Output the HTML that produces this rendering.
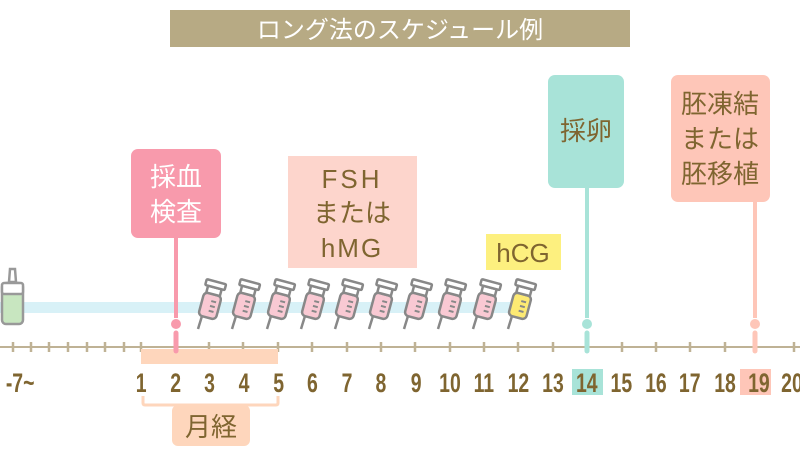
<!DOCTYPE html>
<html><head><meta charset="utf-8"><style>
body{margin:0;width:800px;height:450px;background:#fff;overflow:hidden;font-family:"Liberation Sans","Noto Sans CJK JP",sans-serif}
</style></head><body>
<svg width="800" height="450" viewBox="0 0 800 450" xmlns="http://www.w3.org/2000/svg" font-family="Liberation Sans, Noto Sans CJK JP, sans-serif">
<defs>
<g id="syr">
<line x1="-9" y1="14" x2="-13" y2="27" stroke="#888" stroke-width="2.5"/>
<rect x="-9" y="-8" width="18" height="24" rx="4" fill="#f9c9d3" stroke="#888" stroke-width="2.5" transform="rotate(15)"/>
<line x1="0" y1="-1" x2="5" y2="-1" stroke="#888" stroke-width="2" transform="rotate(15)"/>
<line x1="0" y1="4" x2="5" y2="4" stroke="#888" stroke-width="2" transform="rotate(15)"/>
<line x1="0" y1="9" x2="5" y2="9" stroke="#888" stroke-width="2" transform="rotate(15)"/>
<rect x="-7" y="-15" width="14" height="7" fill="#fff" stroke="#888" stroke-width="2.5" transform="rotate(15)"/>
<rect x="-10" y="-21" width="20" height="6" rx="1" fill="#fff" stroke="#888" stroke-width="2.5" transform="rotate(15)"/>
</g>
</defs>
<rect x="170" y="10" width="460" height="37" fill="#b7aa84"/>
<text x="400" y="38" font-size="24" fill="#fff" text-anchor="middle">ロング法のスケジュール例</text>
<rect x="0" y="302" width="510" height="11" fill="#d8f1f7"/>
<!-- nasal spray -->
<rect x="2" y="283" width="21" height="41" rx="4" fill="#c8e6c0" stroke="#999" stroke-width="2.5"/>
<rect x="2" y="283" width="21" height="11" rx="2" fill="#fff" stroke="#999" stroke-width="2.5"/>
<path d="M9 282 L10 269 L15 269 L16 282Z" fill="#fff" stroke="#999" stroke-width="2.5"/>
<!-- axis -->
<line x1="0" y1="347" x2="800" y2="347" stroke="#bfb295" stroke-width="2"/>
<g stroke="#bfb295" stroke-width="2.5">
<line x1="13" y1="342" x2="13" y2="352"/><line x1="31" y1="342" x2="31" y2="352"/><line x1="49" y1="342" x2="49" y2="352"/><line x1="68" y1="342" x2="68" y2="352"/><line x1="87" y1="342" x2="87" y2="352"/><line x1="105" y1="342" x2="105" y2="352"/><line x1="124" y1="342" x2="124" y2="352"/>
<line x1="141" y1="342" x2="141" y2="352"/><line x1="209" y1="342" x2="209" y2="352"/><line x1="243" y1="342" x2="243" y2="352"/><line x1="278" y1="342" x2="278" y2="352"/><line x1="312" y1="342" x2="312" y2="352"/><line x1="347" y1="342" x2="347" y2="352"/><line x1="381" y1="342" x2="381" y2="352"/><line x1="415" y1="342" x2="415" y2="352"/><line x1="450" y1="342" x2="450" y2="352"/><line x1="484" y1="342" x2="484" y2="352"/><line x1="518" y1="342" x2="518" y2="352"/><line x1="553" y1="342" x2="553" y2="352"/><line x1="622" y1="342" x2="622" y2="352"/><line x1="656" y1="342" x2="656" y2="352"/><line x1="690" y1="342" x2="690" y2="352"/><line x1="725" y1="342" x2="725" y2="352"/><line x1="794" y1="342" x2="794" y2="352"/>
</g>
<rect x="141" y="349" width="137" height="15" fill="#fed6bc"/>
<!-- bracket -->
<path d="M143 396 L143 403 Q143 405 145 405 L276 405 Q278 405 278 403 L278 396" fill="none" stroke="#fed6bc" stroke-width="3"/>
<rect x="172" y="405" width="78" height="41" rx="6" fill="#fed6bc"/>
<text x="211" y="436" font-size="26" fill="#7f6530" text-anchor="middle">月経</text>
<!-- day labels -->
<rect x="572" y="369" width="31" height="26" fill="#a8e3d8"/>
<rect x="740" y="369" width="31" height="26" fill="#fec6b8"/>
<g font-size="27" font-weight="bold" fill="#7f6530" text-anchor="middle">
<g transform="scale(0.72,1)">
<text x="28" y="392">-7~</text>
<text x="196" y="392">1</text><text x="244" y="392">2</text><text x="291" y="392">3</text><text x="339" y="392">4</text><text x="387" y="392">5</text><text x="434" y="392">6</text><text x="482" y="392">7</text><text x="529" y="392">8</text><text x="578" y="392">9</text><text x="625" y="392">10</text><text x="672" y="392">11</text><text x="720" y="392">12</text><text x="768" y="392">13</text><text x="815" y="392">14</text><text x="863" y="392">15</text><text x="911" y="392">16</text><text x="958" y="392">17</text><text x="1007" y="392">18</text><text x="1054" y="392">19</text><text x="1100" y="392">20</text>
</g></g>
<!-- pins -->
<line x1="176" y1="238" x2="176" y2="318" stroke="#f89aac" stroke-width="4"/><circle cx="176" cy="324" r="5" fill="#f89aac"/><line x1="176" y1="333" x2="176" y2="351" stroke="#f89aac" stroke-width="5" stroke-linecap="round"/>
<line x1="587" y1="188" x2="587" y2="318" stroke="#a8e3d8" stroke-width="4"/><circle cx="587" cy="324" r="5" fill="#a8e3d8"/><line x1="587" y1="333" x2="587" y2="351" stroke="#a8e3d8" stroke-width="5" stroke-linecap="round"/>
<line x1="755" y1="202" x2="755" y2="318" stroke="#fec6b8" stroke-width="4"/><circle cx="755" cy="324" r="5" fill="#fec6b8"/><line x1="755" y1="333" x2="755" y2="351" stroke="#fec6b8" stroke-width="5" stroke-linecap="round"/>
<!-- boxes -->
<rect x="131" y="149" width="90" height="89" rx="7" fill="#f89aac"/>
<text x="176" y="186" font-size="26" fill="#fff" text-anchor="middle">採血</text>
<text x="176" y="221" font-size="26" fill="#fff" text-anchor="middle">検査</text>
<rect x="288" y="156" width="129" height="112" fill="#fdd5cc"/>
<g font-size="26" fill="#7f6530" text-anchor="middle">
<text x="352" y="188" letter-spacing="3">FSH</text><text x="352" y="222">または</text><text x="352" y="257" letter-spacing="2">hMG</text>
</g>
<rect x="486" y="234" width="75" height="36" fill="#fdf07f"/>
<text x="523" y="262" font-size="26" fill="#7f6530" text-anchor="middle">hCG</text>
<rect x="548" y="75" width="76" height="113" rx="7" fill="#a8e3d8"/>
<text x="586" y="140" font-size="26" fill="#7f6530" text-anchor="middle">採卵</text>
<rect x="671" y="75" width="99" height="127" rx="7" fill="#fec6b8"/>
<g font-size="26" fill="#7f6530" text-anchor="middle">
<text x="720" y="113">胚凍結</text><text x="720" y="148">または</text><text x="720" y="183">胚移植</text>
</g>
<!-- syringes -->
<use href="#syr" x="211" y="302"/><use href="#syr" x="245" y="302"/><use href="#syr" x="280" y="302"/><use href="#syr" x="314" y="302"/><use href="#syr" x="348" y="302"/><use href="#syr" x="382" y="302"/><use href="#syr" x="417" y="302"/><use href="#syr" x="451" y="302"/><use href="#syr" x="486" y="302"/>
<g transform="translate(521,302)">
<line x1="-9" y1="14" x2="-13" y2="27" stroke="#888" stroke-width="2.5"/>
<rect x="-9" y="-8" width="18" height="24" rx="4" fill="#fdea73" stroke="#888" stroke-width="2.5" transform="rotate(15)"/>
<line x1="0" y1="-1" x2="5" y2="-1" stroke="#888" stroke-width="2" transform="rotate(15)"/>
<line x1="0" y1="4" x2="5" y2="4" stroke="#888" stroke-width="2" transform="rotate(15)"/>
<line x1="0" y1="9" x2="5" y2="9" stroke="#888" stroke-width="2" transform="rotate(15)"/>
<rect x="-7" y="-15" width="14" height="7" fill="#fff" stroke="#888" stroke-width="2.5" transform="rotate(15)"/>
<rect x="-10" y="-21" width="20" height="6" rx="1" fill="#fff" stroke="#888" stroke-width="2.5" transform="rotate(15)"/>
</g>
</svg>
</body></html>
